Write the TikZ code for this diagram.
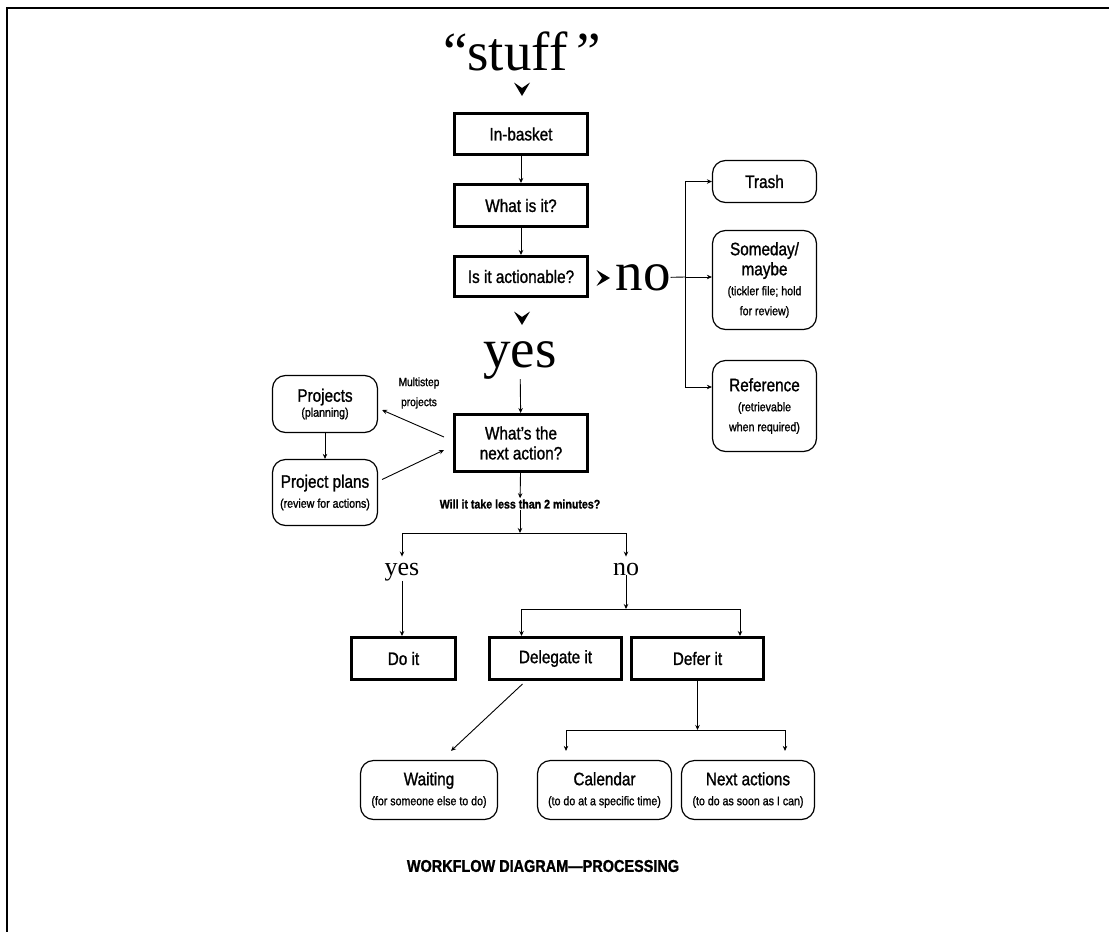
\documentclass[tikz,border=0pt]{standalone}
\usepackage{fontspec}
\setmainfont{Liberation Serif}
\newfontfamily\boxfont[FakeStretch=0.85, FakeBold=1.2]{Liberation Sans}
\usetikzlibrary{arrows.meta,positioning,calc}

\newcommand\subtxt{\fontsize{12.5}{19}\selectfont}

\begin{document}
\begin{tikzpicture}[x=1pt, y=-1pt,
  box/.style={draw, line width=3pt, minimum width=133pt, minimum height=41pt,
    inner sep=0pt, align=center, font=\boxfont\fontsize{18}{20}\selectfont},
  rbox/.style={draw, line width=1.2pt, rounded corners=13pt, minimum width=104pt,
    inner sep=0pt, align=center, font=\boxfont\fontsize{18}{20}\selectfont},
  big/.style={font=\fontsize{55}{60}\selectfont, inner sep=0pt},
  mid/.style={font=\fontsize{26}{30}\selectfont, inner sep=0pt},
  arr/.style={-{Stealth[length=5pt,width=4.5pt]}, line width=0.9pt},
  chevron/.pic={\fill (-8,-6.5) -- (0,7) -- (8,-6.5) -- (0,-1) -- cycle;}
]
  \useasboundingbox (0,0) rectangle (1109,932);
  \draw[line width=2pt] (1109,7.5) -- (6.8,7.5) -- (6.8,932);

  % main column
  \node[big, anchor=base] (stuff) at (522,70) {“stuff\,”};
  \node[box] (inbasket) at (521,134) {In-basket};
  \node[box, minimum height=42pt] (whatis) at (521,205.5) {What is it?};
  \node[box, minimum height=40pt] (actionable) at (521,276.5) {Is it actionable?};
  \node[big, anchor=base] (no) at (643,290) {no};
  \node[big, anchor=base] (yes) at (520,367) {yes};
  \node[box, minimum height=57pt] (nextact) at (521,443) {What’s the\\next action?};
  \node[font=\boxfont\bfseries\fontsize{12.5}{14}\selectfont, inner sep=1pt] (twomin)
    at (520,504) {Will it take less than 2 minutes?};

  % not actionable
  \node[rbox, minimum height=42pt] (trash) at (764.5,181.5) {Trash};
  \node[rbox, minimum height=99pt] (someday) at (764.5,280)
    {Someday/\\maybe\\\subtxt(tickler file; hold\\\subtxt for review)};
  \node[rbox, minimum height=91pt] (reference) at (764.5,406)
    {Reference\\\subtxt(retrievable\\\subtxt when required)};

  % projects
  \node[rbox, minimum width=105pt, minimum height=57pt] (projects) at (325,404)
    {Projects\\[-5pt]\subtxt(planning)};
  \node[rbox, minimum width=105pt, minimum height=66pt] (projplans) at (325,492.5)
    {Project plans\\\subtxt(review for actions)};
  \node[font=\boxfont\fontsize{12}{20}\selectfont, align=center, inner sep=0pt] (multistep)
    at (419,393) {Multistep\\projects};

  % two minutes
  \node[mid, anchor=base] (yes2) at (402,575) {yes};
  \node[mid, anchor=base] (no2) at (626,575) {no};
  \node[box, minimum width=104pt, minimum height=42pt] (doit) at (403.5,658.5) {Do it};
  \node[box, minimum width=132pt, minimum height=42pt] (delegate) at (555.5,658.5) {Delegate it};
  \node[box, minimum width=132pt, minimum height=42pt] (defer) at (697.5,658.5) {Defer it};
  \node[rbox, minimum width=137pt, minimum height=59pt] (waiting) at (429,790)
    {Waiting\\\subtxt(for someone else to do)};
  \node[rbox, minimum width=134pt, minimum height=59pt] (calendar) at (604.5,790)
    {Calendar\\\subtxt(to do at a specific time)};
  \node[rbox, minimum width=133pt, minimum height=59pt] (nextactions) at (748,790)
    {Next actions\\\subtxt(to do as soon as I can)};

  \node[font=\boxfont\bfseries\fontsize{17}{20}\selectfont] (title) at (543,866)
    {WORKFLOW DIAGRAM—PROCESSING};

  % chevrons
  \pic at (522,89) {chevron};
  \pic at (522,318) {chevron};
  \pic[rotate=90] at (603,278) {chevron};

  \coordinate (nosplit) at (685,277);
  \coordinate (minsplit) at (520,533);
  \coordinate (nosplit2) at (626,609);
  \coordinate (defersplit) at (697.5,730);

  \draw[arr] (inbasket) -- (whatis);
  \draw[arr] (whatis) -- (actionable);
  \draw[line width=0.9pt] (no.east) -- (nosplit);
  \draw[arr] (nosplit) -- (someday.west |- nosplit);
  \draw[arr] (nosplit) |- (trash.west);
  \draw[arr] (nosplit) |- ($(reference.west)+(0,-19)$);
  \draw[arr] (yes) -- (nextact);
  \draw[arr] (nextact) -- (twomin);
  \draw[arr] (twomin) -- (minsplit);
  \draw[arr, shorten >=6pt] (minsplit) -| (yes2);
  \draw[arr, shorten >=6pt] (minsplit) -| (no2);
  \draw[arr] (yes2.south) -- (yes2.south |- doit.north);
  \draw[arr] (no2) -- (nosplit2);
  \draw[arr] (nosplit2) -| ($(delegate.north)+(-34,0)$);
  \draw[arr] (nosplit2) -| ($(defer.north)+(42.5,0)$);
  \draw[arr] ($(delegate.south)+(-33,3)$) -- ($(waiting.north)+(22,-9)$);
  \draw[arr] (defer) -- (defersplit);
  \draw[arr, shorten >=9pt] (defersplit) -| (calendar.north -| 566,0);
  \draw[arr, shorten >=9pt] (defersplit) -| (nextactions.north -| 785,0);
  \draw[arr] (projects) -- (projplans);
  \draw[arr] ($(nextact.west)+(-9,-6)$) -- ($(projects.east)+(4,6)$);
  \draw[arr] ($(projplans.east)+(4,-13)$) -- ($(nextact.west)+(-9,7)$);
\end{tikzpicture}
\end{document}
